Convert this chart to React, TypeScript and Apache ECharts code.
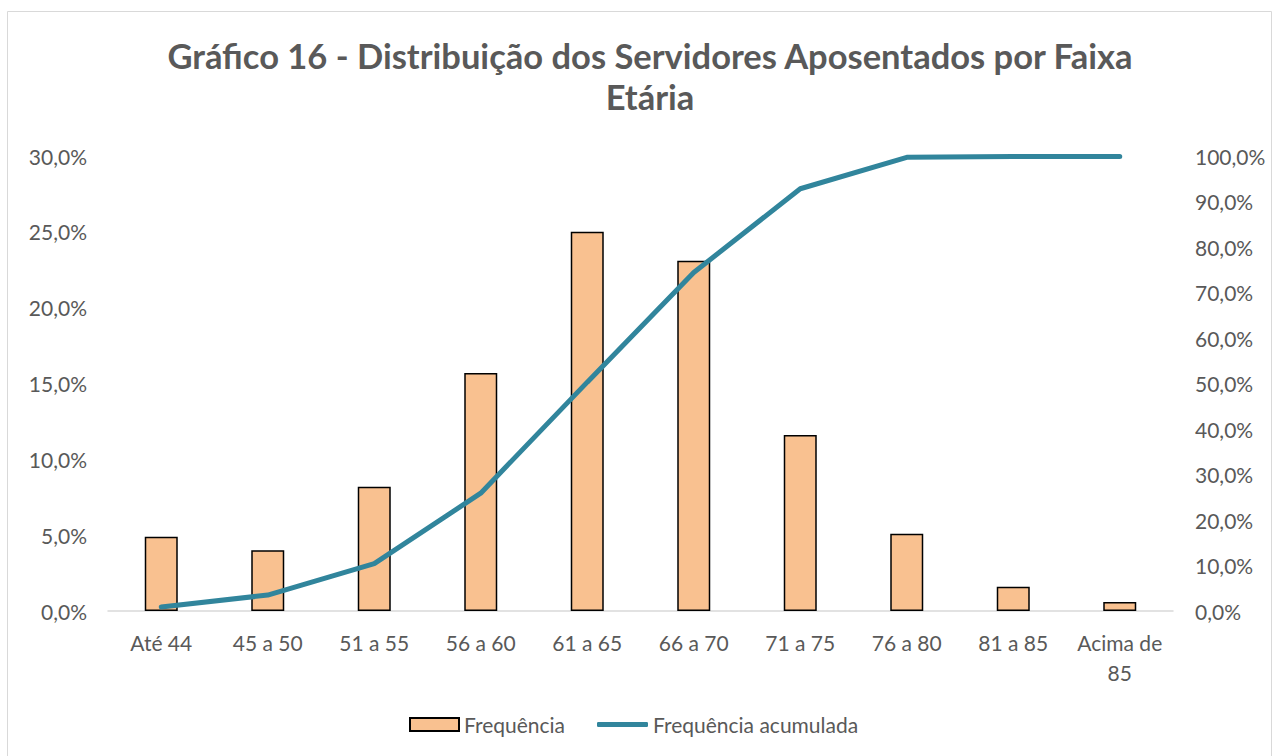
import React, { useEffect, useRef } from "react";
import * as echarts from "echarts";

const categories = ["Até 44", "45 a 50", "51 a 55", "56 a 60", "61 a 65", "66 a 70", "71 a 75", "76 a 80", "81 a 85", "Acima de\n85"];
const frequencia = [4.9, 4.0, 8.2, 15.7, 25.0, 23.1, 11.6, 5.1, 1.6, 0.6];
const acumulada = [0.9, 3.5, 10.4, 25.9, 50.3, 74.4, 92.8, 99.7, 99.9, 99.9];
const titleText = "Gráfico 16 - Distribuição dos Servidores Aposentados por Faixa\nEtária";

const FONT = "Lato, 'Open Sans', sans-serif";
const fmt = (v: number) => v.toFixed(1).replace(".", ",") + "%";
const LINE_COLOR = "#31859C";

export default function App() {
  const ref = useRef<HTMLDivElement>(null);
  useEffect(() => {
    if (!ref.current) return;
    const chart = echarts.init(ref.current, undefined, { renderer: "svg" });
    chart.setOption({
      animation: false,
      backgroundColor: "#ffffff",
      textStyle: { fontFamily: FONT },
      graphic: [
        {
          type: "rect",
          shape: { x: 7.5, y: 11.5, width: 1264, height: 760 },
          style: { fill: "none", stroke: "#d9d9d9", lineWidth: 1 },
          silent: true,
        },
      ],
      title: {
        text: titleText,
        left: 645,
        textAlign: "center",
        top: 30,
        textStyle: { fontFamily: FONT, fontSize: 34.5, fontWeight: "bold", color: "#595959", lineHeight: 41 },
      },
      legend: [
        {
          left: 409,
          top: 714,
          padding: 0,
          itemWidth: 49,
          itemHeight: 13,
          itemGap: 0,
          textStyle: { fontFamily: FONT, fontSize: 21, color: "#595959" },
          data: [{ name: "Frequência", icon: "rect" }],
        },
        {
          left: 597,
          top: 714,
          padding: 0,
          itemWidth: 51,
          itemHeight: 5,
          itemGap: 0,
          textStyle: { fontFamily: FONT, fontSize: 21, color: "#595959" },
          data: [{ name: "Frequência acumulada", icon: "roundRect", itemStyle: { color: LINE_COLOR } }],
        },
      ],
      grid: { left: 108, right: 102, top: 156, bottom: 145, containLabel: false },
      xAxis: {
        type: "category",
        data: categories,
        axisLine: { lineStyle: { color: "#d9d9d9", width: 1.5 } },
        axisTick: { show: false },
        axisLabel: { fontFamily: FONT, fontSize: 21, color: "#595959", margin: 16, lineHeight: 30, interval: 0 },
      },
      yAxis: [
        {
          type: "value",
          min: 0,
          max: 30,
          interval: 5,
          splitLine: { show: false },
          axisLine: { show: false },
          axisTick: { show: false },
          axisLabel: { fontFamily: FONT, fontSize: 21, color: "#595959", margin: 21, formatter: fmt },
        },
        {
          type: "value",
          min: 0,
          max: 100,
          interval: 10,
          splitLine: { show: false },
          axisLine: { show: false },
          axisTick: { show: false },
          axisLabel: { fontFamily: FONT, fontSize: 21, color: "#595959", margin: 22, formatter: fmt },
        },
      ],
      series: [
        {
          name: "Frequência",
          type: "bar",
          data: frequencia,
          barWidth: 33,
          itemStyle: { color: "#F9C190", borderColor: "#000000", borderWidth: 1.5 },
          yAxisIndex: 0,
        },
        {
          name: "Frequência acumulada",
          type: "line",
          data: acumulada,
          yAxisIndex: 1,
          symbol: "none",
          lineStyle: { color: LINE_COLOR, width: 5, cap: "round" },
          itemStyle: { color: LINE_COLOR },
        },
      ],
    });
    return () => chart.dispose();
  }, []);
  return <div ref={ref} style={{ position: "fixed", left: 0, top: 0, width: 1275, height: 756 }} />;
}
